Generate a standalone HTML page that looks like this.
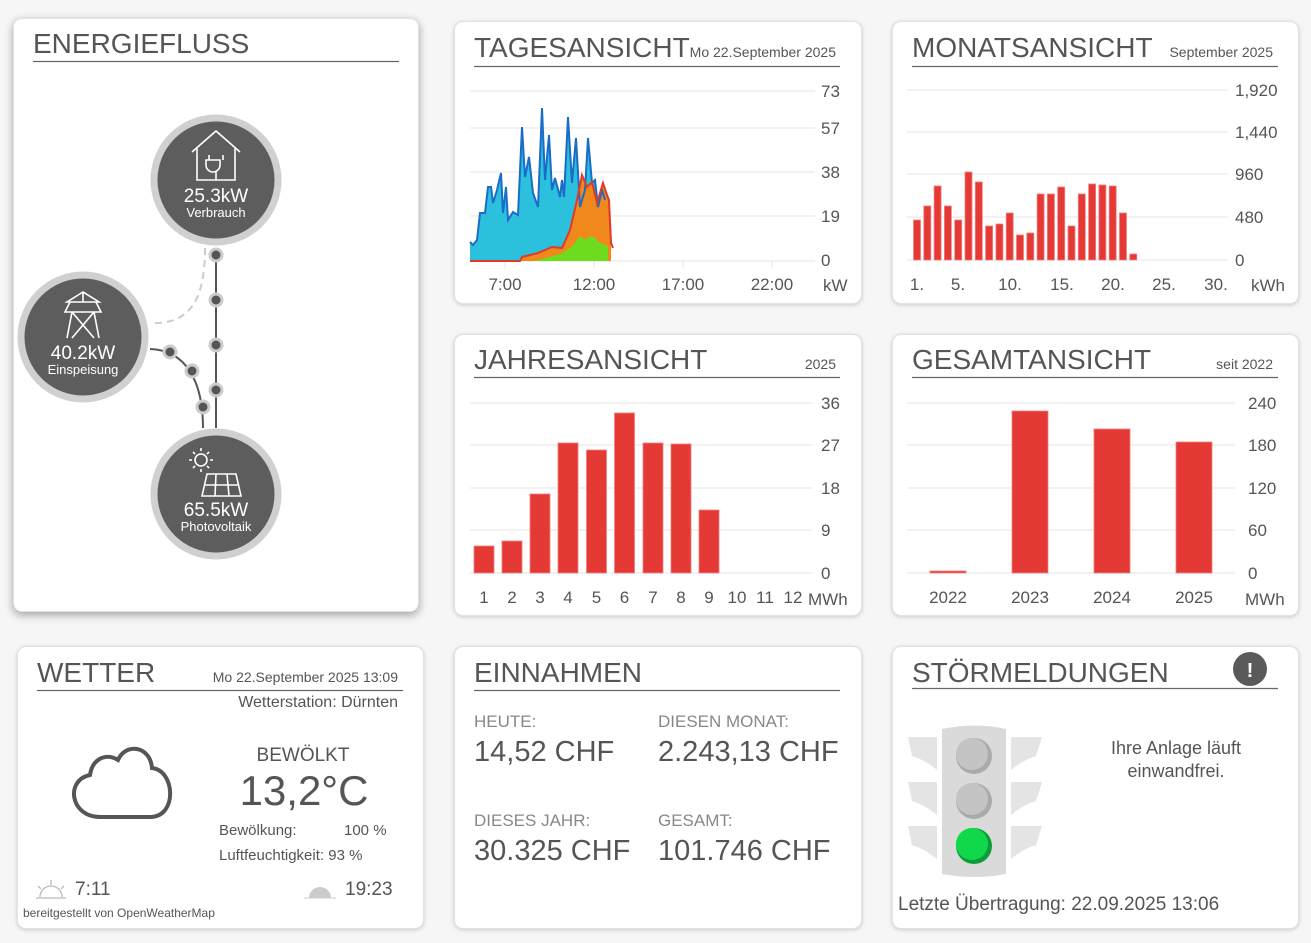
<!DOCTYPE html>
<html><head><meta charset="utf-8"><style>
body{margin:0;width:1311px;height:943px;background:#f6f6f6;position:relative;overflow:hidden;font-family:"Liberation Sans",sans-serif}
.c{position:absolute;background:#fff;border-radius:9px;border:1px solid #e2e2e2;box-shadow:0 1px 4px rgba(0,0,0,.18)}
svg{position:absolute;left:0;top:0}
text{font-family:"Liberation Sans",sans-serif;fill:#555}
</style></head><body>
<div class="c" style="left:13px;top:18px;width:404px;height:592px;box-shadow:0 3px 9px rgba(0,0,0,.35)"></div>
<div class="c" style="left:454px;top:21px;width:406px;height:281px"></div>
<div class="c" style="left:892px;top:21px;width:405px;height:281px"></div>
<div class="c" style="left:454px;top:334px;width:406px;height:280px"></div>
<div class="c" style="left:892px;top:334px;width:405px;height:280px"></div>
<div class="c" style="left:17px;top:646px;width:405px;height:281px"></div>
<div class="c" style="left:454px;top:646px;width:406px;height:281px"></div>
<div class="c" style="left:892px;top:646px;width:405px;height:281px"></div>
<svg width="1311" height="943" viewBox="0 0 1311 943">
<g font-size="28">
<text x="33" y="53">ENERGIEFLUSS</text>
<text x="474" y="57">TAGESANSICHT</text>
<text x="912" y="57">MONATSANSICHT</text>
<text x="474" y="369">JAHRESANSICHT</text>
<text x="912" y="369">GESAMTANSICHT</text>
<text x="37" y="682">WETTER</text>
<text x="474" y="682">EINNAHMEN</text>
<text x="912" y="682">STÖRMELDUNGEN</text>
</g>
<g stroke="#666" stroke-width="1.2">
<line x1="33" y1="61.5" x2="399" y2="61.5"/>
<line x1="474" y1="66.5" x2="840" y2="66.5"/>
<line x1="912" y1="66.5" x2="1278" y2="66.5"/>
<line x1="474" y1="377.5" x2="840" y2="377.5"/>
<line x1="912" y1="377.5" x2="1278" y2="377.5"/>
<line x1="37" y1="690.5" x2="403" y2="690.5"/>
<line x1="474" y1="690.5" x2="840" y2="690.5"/>
<line x1="912" y1="688.5" x2="1278" y2="688.5"/>
</g>
<g font-size="14">
<text x="836" y="57" text-anchor="end">Mo 22.September 2025</text>
<text x="1273" y="57" text-anchor="end">September 2025</text>
<text x="836" y="369" text-anchor="end">2025</text>
<text x="1273" y="369" text-anchor="end">seit 2022</text>
</g>

<g stroke="#e4e4e4" stroke-width="1">
<line x1="470" y1="91" x2="815" y2="91"/><line x1="470" y1="128" x2="815" y2="128"/>
<line x1="470" y1="172" x2="815" y2="172"/><line x1="470" y1="216" x2="815" y2="216"/>
<line x1="470" y1="261" x2="815" y2="261"/>
<line x1="505" y1="261" x2="505" y2="268"/><line x1="594" y1="261" x2="594" y2="268"/><line x1="683" y1="261" x2="683" y2="268"/><line x1="772" y1="261" x2="772" y2="268"/>
</g>
<g font-size="17">
<text x="821" y="97">73</text><text x="821" y="134">57</text><text x="821" y="178">38</text><text x="821" y="222">19</text><text x="821" y="266">0</text>
<text x="505" y="290" text-anchor="middle">7:00</text><text x="594" y="290" text-anchor="middle">12:00</text><text x="683" y="290" text-anchor="middle">17:00</text><text x="772" y="290" text-anchor="middle">22:00</text>
<text x="823" y="291">kW</text>
</g>
<path d="M470,261 L470,242 473,245 477,240 480,213 485,213 488,187 491,187 493,203 497,190 501,173 503,213 506,187 508,220 513,212 518,215 522,127 525,177 529,157 533,193 538,207 542,108 545,180 549,135 552,190 555,178 560,197 562,180 564,197 568,117 572,183 576,138 580,207 585,190 588,138 592,183 595,180 598,207 602,190 605,200 608,207 608,261Z" fill="#2bc0dc"/>
<path d="M470,261 L520,261 522,257 538,253 552,247 562,248 570,230 577,200 582,175 587,187 592,182 597,203 603,183 607,195 609,200 611,243 611,261Z" fill="#f0881c"/>
<path d="M535,261 L545,258 560,254 570,248 575,243 580,236 585,240 590,236 595,238 600,243 605,245 608,246 608,261Z" fill="#6ddc1e"/>
<path d="M470,242 473,245 477,240 480,213 485,213 488,187 491,187 493,203 497,190 501,173 503,213 506,187 508,220 513,212 518,215 522,127 525,177 529,157 533,193 538,207 542,108 545,180 549,135 552,190 555,178 560,197 562,180 564,197 568,117 572,183 576,138 580,207 585,190 588,138 592,183 595,180 598,207 602,190 605,200" fill="none" stroke="#1b6cc8" stroke-width="2"/>
<path d="M470,261 L520,261 522,257 538,253 552,247 562,248 570,230 577,200 582,175 587,187 592,182 597,203 603,183 607,195 609,200 611,243 613,248" fill="none" stroke="#e03a2a" stroke-width="2"/>

<g stroke="#e4e4e4">
<line x1="907" y1="90" x2="1228" y2="90"/><line x1="907" y1="132" x2="1228" y2="132"/><line x1="907" y1="174" x2="1228" y2="174"/><line x1="907" y1="217" x2="1228" y2="217"/><line x1="907" y1="260" x2="1228" y2="260"/>
</g>
<g font-size="17">
<text x="1235" y="96">1,920</text><text x="1235" y="138">1,440</text><text x="1235" y="180">960</text><text x="1235" y="223">480</text><text x="1235" y="266">0</text>
<text x="917" y="290" text-anchor="middle">1.</text><text x="958" y="290" text-anchor="middle">5.</text><text x="1010" y="290" text-anchor="middle">10.</text><text x="1062" y="290" text-anchor="middle">15.</text><text x="1113" y="290" text-anchor="middle">20.</text><text x="1164" y="290" text-anchor="middle">25.</text><text x="1216" y="290" text-anchor="middle">30.</text>
<text x="1251" y="291">kWh</text>
</g>
<g fill="#e53935" stroke="#f08080" stroke-width=".8">
<rect x="913.5" y="220" width="7" height="40"/><rect x="923.8" y="206" width="7" height="54"/><rect x="934.1" y="186" width="7" height="74"/><rect x="944.4" y="206" width="7" height="54"/><rect x="954.7" y="220" width="7" height="40"/><rect x="965" y="172" width="7" height="88"/><rect x="975.3" y="182" width="7" height="78"/><rect x="985.6" y="226" width="7" height="34"/><rect x="995.9" y="224" width="7" height="36"/><rect x="1006.2" y="213" width="7" height="47"/><rect x="1016.5" y="235" width="7" height="25"/><rect x="1026.8" y="233" width="7" height="27"/><rect x="1037.1" y="194" width="7" height="66"/><rect x="1047.4" y="194" width="7" height="66"/><rect x="1057.7" y="187" width="7" height="73"/><rect x="1068" y="226" width="7" height="34"/><rect x="1078.3" y="194" width="7" height="66"/><rect x="1088.6" y="184" width="7" height="76"/><rect x="1098.9" y="185" width="7" height="75"/><rect x="1109.2" y="186" width="7" height="74"/><rect x="1119.5" y="213" width="7" height="47"/><rect x="1129.8" y="254" width="7" height="6"/>
</g>

<g stroke="#e4e4e4">
<line x1="470" y1="403" x2="812" y2="403"/><line x1="470" y1="445" x2="812" y2="445"/><line x1="470" y1="488" x2="812" y2="488"/><line x1="470" y1="530" x2="812" y2="530"/><line x1="470" y1="573" x2="812" y2="573"/>
</g>
<g font-size="17">
<text x="821" y="409">36</text><text x="821" y="451">27</text><text x="821" y="494">18</text><text x="821" y="536">9</text><text x="821" y="579">0</text>
<g text-anchor="middle"><text x="484" y="603">1</text><text x="512" y="603">2</text><text x="540" y="603">3</text><text x="568" y="603">4</text><text x="596.5" y="603">5</text><text x="624.5" y="603">6</text><text x="653" y="603">7</text><text x="681" y="603">8</text><text x="709" y="603">9</text><text x="737" y="603">10</text><text x="765" y="603">11</text><text x="793" y="603">12</text></g>
<text x="808" y="605">MWh</text>
</g>
<g fill="#e53935" stroke="#f08080" stroke-width=".8">
<rect x="474" y="546" width="20" height="27"/><rect x="502" y="541" width="20" height="32"/><rect x="530" y="494" width="20" height="79"/><rect x="558" y="443" width="20" height="130"/><rect x="586.5" y="450" width="20" height="123"/><rect x="614.5" y="413" width="20" height="160"/><rect x="643" y="443" width="20" height="130"/><rect x="671" y="444" width="20" height="129"/><rect x="699" y="510" width="20" height="63"/>
</g>

<g stroke="#e4e4e4">
<line x1="907" y1="403" x2="1235" y2="403"/><line x1="907" y1="445" x2="1235" y2="445"/><line x1="907" y1="488" x2="1235" y2="488"/><line x1="907" y1="530" x2="1235" y2="530"/><line x1="907" y1="573" x2="1235" y2="573"/>
</g>
<g font-size="17">
<text x="1248" y="409">240</text><text x="1248" y="451">180</text><text x="1248" y="494">120</text><text x="1248" y="536">60</text><text x="1248" y="579">0</text>
<g text-anchor="middle"><text x="948" y="603">2022</text><text x="1030" y="603">2023</text><text x="1112" y="603">2024</text><text x="1194" y="603">2025</text></g>
<text x="1245" y="605">MWh</text>
</g>
<g fill="#e53935" stroke="#f08080" stroke-width=".8">
<rect x="930" y="571" width="36" height="2"/><rect x="1012" y="411" width="36" height="162"/><rect x="1094" y="429" width="36" height="144"/><rect x="1176" y="442" width="36" height="131"/>
</g>

<path d="M205,248 C205,300 190,325 150,323" fill="none" stroke="#ccc" stroke-width="2" stroke-dasharray="7,5"/>
<path d="M150,349 C185,350 203,380 203,428" fill="none" stroke="#555" stroke-width="2"/>
<line x1="216" y1="248" x2="216" y2="428" stroke="#555" stroke-width="2"/>
<g fill="#555" stroke="#ccc" stroke-width="3">
<circle cx="216" cy="255" r="6"/><circle cx="216" cy="300" r="6"/><circle cx="216" cy="345" r="6"/><circle cx="216" cy="390" r="6"/>
<circle cx="170" cy="352" r="6"/><circle cx="192" cy="371" r="6"/><circle cx="203" cy="407" r="6"/>
</g>
<g fill="#5d5d5d" stroke="#d0d0d0" stroke-width="7">
<circle cx="216" cy="180" r="62"/><circle cx="83" cy="337" r="62"/><circle cx="216" cy="494" r="62"/>
</g>
<g fill="none" stroke="#fff" stroke-width="1.6">
<path d="M192,152 L216,131 L240,152 M197,147 V180 H235 V147"/>
<path d="M209,160 v-5 M223,160 v-5 M206,160 h14 v5 a7,7 0 0 1 -14 0z M216,172 v8"/>
<path d="M83,292 L67,302 H99 Z M70,302 L65,312 H101 L96,302 M72,312 L67,338 M94,312 L99,338 M72,312 L94,338 M94,312 L72,338 M83,292 V302"/>
<circle cx="201" cy="460" r="6"/>
<path d="M201,448v3M201,469v3M189,460h3M210,460h3M193,452l2,2M207,466l2,2M193,468l2,-2M207,454l2,-2"/>
<path d="M207,474 H236 L241,496 H202 Z M205,485 H239 M216,474 L215,496 M227,474 L229,496"/>
</g>
<g text-anchor="middle">
<text x="216" y="202" font-size="19" style="fill:#fff">25.3kW</text><text x="216" y="217" font-size="13" style="fill:#fff">Verbrauch</text>
<text x="83" y="359" font-size="19" style="fill:#fff">40.2kW</text><text x="83" y="374" font-size="13" style="fill:#fff">Einspeisung</text>
<text x="216" y="516" font-size="19" style="fill:#fff">65.5kW</text><text x="216" y="531" font-size="13" style="fill:#fff">Photovoltaik</text>
</g>

<text x="398" y="682" font-size="14" text-anchor="end">Mo 22.September 2025 13:09</text>
<text x="398" y="707" font-size="16" text-anchor="end">Wetterstation: Dürnten</text>
<path d="M100,817 C70,817 65,780 90,775 C92,760 105,752 118,760 C125,743 150,745 152,768 C175,770 178,817 150,817 Z" fill="none" stroke="#555" stroke-width="4"/>
<text x="303" y="761" font-size="19" text-anchor="middle">BEWÖLKT</text>
<text x="304" y="805" font-size="42" text-anchor="middle">13,2°C</text>
<text x="219" y="835" font-size="15">Bewölkung:</text><text x="344" y="835" font-size="15">100 %</text>
<text x="219" y="860" font-size="15">Luftfeuchtigkeit: 93 %</text>
<path d="M36,898 H66 M40,897 a11,11 0 0 1 22,0" fill="none" stroke="#bbb" stroke-width="1.3"/>
<path d="M51,880v5M38,886l3,3M64,886l-3,3" stroke="#bbb" stroke-width="1.3"/>
<text x="75" y="895" font-size="19">7:11</text>
<path d="M309,898 a11,11 0 0 1 22,0 Z" fill="#ccc"/><line x1="304" y1="898" x2="336" y2="898" stroke="#ccc"/>
<text x="345" y="895" font-size="19">19:23</text>
<text x="23" y="917" font-size="12">bereitgestellt von OpenWeatherMap</text>

<g font-size="17">
<text x="474" y="727" style="fill:#888">HEUTE:</text><text x="658" y="727" style="fill:#888">DIESEN MONAT:</text>
<text x="474" y="826" style="fill:#888">DIESES JAHR:</text><text x="658" y="826" style="fill:#888">GESAMT:</text>
</g>
<g font-size="29">
<text x="474" y="761">14,52 CHF</text><text x="658" y="761">2.243,13 CHF</text>
<text x="474" y="860">30.325 CHF</text><text x="658" y="860">101.746 CHF</text>
</g>

<circle cx="1250" cy="669" r="17" fill="#5a5a5a"/>
<text x="1250" y="677" font-size="20" font-weight="bold" text-anchor="middle" style="fill:#fff">!</text>
<g fill="#e4e4e4">
<path d="M908,737 L937,737 937,770 Q925,760 912,756 Z"/><path d="M1042,737 L1011,737 1011,770 Q1023,760 1036,756 Z"/>
<path d="M908,782 L937,782 937,815 Q925,805 912,801 Z"/><path d="M1042,782 L1011,782 1011,815 Q1023,805 1036,801 Z"/>
<path d="M908,826 L937,826 937,859 Q925,849 912,845 Z"/><path d="M1042,826 L1011,826 1011,859 Q1023,849 1036,845 Z"/>
</g>
<path d="M942,729 Q975,722 1006,729 V874 Q975,880 942,874 Z" fill="#dadada"/>
<circle cx="974" cy="756" r="18" fill="#aaa"/><circle cx="972" cy="754" r="16" fill="#c4c4c4"/>
<circle cx="974" cy="801" r="18" fill="#aaa"/><circle cx="972" cy="799" r="16" fill="#c4c4c4"/>
<circle cx="974" cy="846" r="18" fill="#0a9d3a"/><circle cx="972" cy="844" r="16" fill="#0fd84a"/>
<text x="1176" y="754" font-size="18" text-anchor="middle">Ihre Anlage läuft</text>
<text x="1176" y="777" font-size="18" text-anchor="middle">einwandfrei.</text>
<text x="898" y="910" font-size="19">Letzte Übertragung: 22.09.2025 13:06</text>
</svg>
</body></html>
